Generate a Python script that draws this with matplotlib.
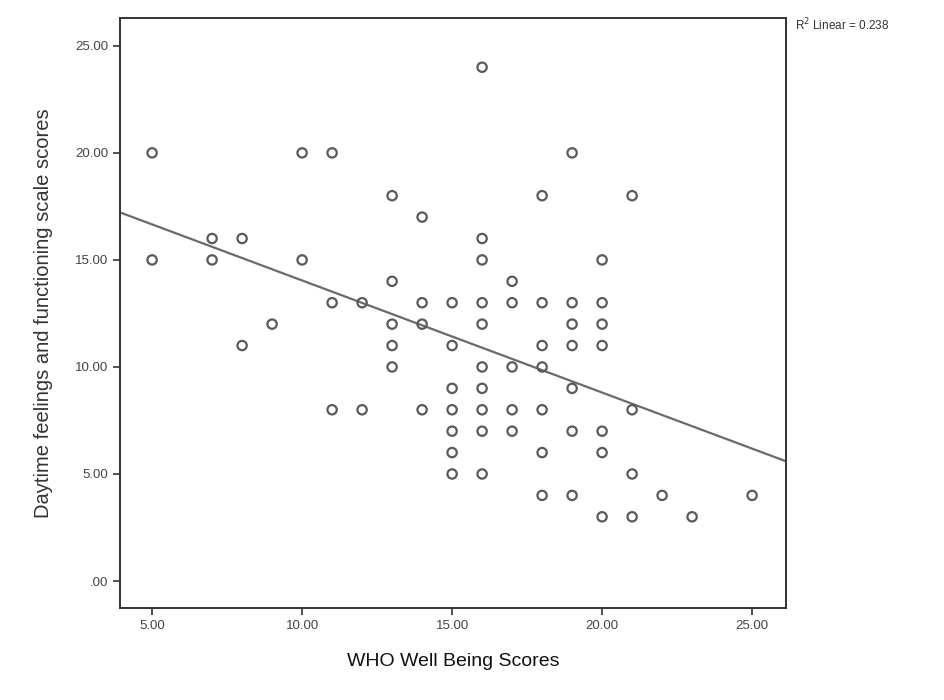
import matplotlib
matplotlib.use("Agg")
import matplotlib.pyplot as plt
import numpy as np

plt.rcParams['font.family'] = ['Liberation Sans', 'DejaVu Sans']

who_scores = [5, 5, 7, 7, 8, 8, 9, 10, 10, 11, 11, 11, 12, 12,
              13, 13, 13, 13, 13,
              14, 14, 14, 14,
              15, 15, 15, 15, 15, 15, 15,
              16, 16, 16, 16, 16, 16, 16, 16, 16, 16,
              17, 17, 17, 17, 17,
              18, 18, 18, 18, 18, 18, 18,
              19, 19, 19, 19, 19, 19, 19,
              20, 20, 20, 20, 20, 20, 20,
              21, 21, 21, 21,
              22, 23, 25]
daytime_scores = [20, 15, 16, 15, 16, 11, 12, 20, 15, 20, 13, 8, 13, 8,
                  18, 14, 12, 11, 10,
                  17, 13, 12, 8,
                  13, 11, 9, 8, 7, 6, 5,
                  24, 16, 15, 13, 12, 10, 9, 8, 7, 5,
                  14, 13, 10, 8, 7,
                  18, 13, 11, 10, 8, 6, 4,
                  20, 13, 12, 11, 9, 7, 4,
                  15, 13, 12, 11, 7, 6, 3,
                  18, 8, 5, 3,
                  4, 3, 4]

x_ticks = [5, 10, 15, 20, 25]
x_tick_labels = ["5.00", "10.00", "15.00", "20.00", "25.00"]
y_ticks = [0, 5, 10, 15, 20, 25]
y_tick_labels = [".00", "5.00", "10.00", "15.00", "20.00", "25.00"]
r2_label = "R$^2$ Linear = 0.238"

fig = plt.figure(figsize=(9.44, 7.0), dpi=100)
ax = fig.add_axes([120/944, 1-608/700, (786-120)/944, (608-18)/700])

x = np.array(who_scores, dtype=float)
y = np.array(daytime_scores, dtype=float)
ax.scatter(x, y, s=45, facecolors='none', edgecolors='#5a5a5a', linewidths=1.6, zorder=3)

slope, intercept = np.polyfit(x, y, 1)
xlim = (3.93, 26.13)
xs = np.array(xlim)
ax.plot(xs, intercept + slope*xs, color='#6a6a6a', linewidth=1.6, zorder=2)

ax.set_xlim(*xlim)
ax.set_ylim(-1.26, 26.3)
ax.set_xticks(x_ticks)
ax.set_xticklabels(x_tick_labels)
ax.set_yticks(y_ticks)
ax.set_yticklabels(y_tick_labels)
ax.tick_params(direction='out', length=5, width=1.2, color='#333333',
               labelsize=9.5, labelcolor='#444444')
for sp in ax.spines.values():
    sp.set_color('#333333')
    sp.set_linewidth(1.4)

ax.set_xlabel("WHO Well Being Scores", fontsize=14, color='#111111', labelpad=15)
ax.set_ylabel("Daytime feelings and functioning scale scores", fontsize=14.5,
              color='#333333', labelpad=16)

fig.text(795/944, 1-25/700, r2_label, fontsize=8.5, color='#333333',
         ha='left', va='center')

fig.savefig("out.png", dpi=100)
